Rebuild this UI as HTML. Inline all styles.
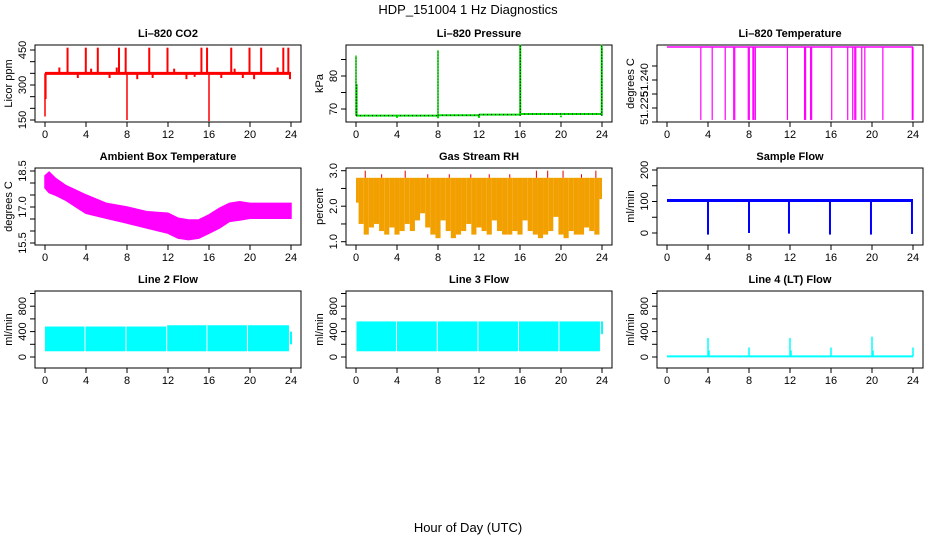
<!DOCTYPE html>
<html><head><meta charset="utf-8">
<style>
html,body{margin:0;padding:0;background:#fff;}
svg{display:block;font-family:"Liberation Sans",sans-serif;}
</style></head>
<body>
<svg id="chart" width="936" height="540" viewBox="0 0 936 540" xmlns="http://www.w3.org/2000/svg">
<text x="468" y="14" text-anchor="middle" font-size="13">HDP_151004  1 Hz Diagnostics</text>
<text x="468" y="532" text-anchor="middle" font-size="13">Hour of Day (UTC)</text>
</svg>
<script>
// ---- data ----
const hourTicks = [0,4,8,12,16,20,24];
// CO2
const co2Base = 350;
const co2SpikeHours = [2.2,3.98,5.15,7.22,7.87,10.17,11.95,15.26,15.81,18.17,19.95,21.09,23.25,23.74];
const co2SpikeVals = [460,460,460,460,460,460,460,460,460,460,460,460,460,460];
const co2DipHours = [0.0,0.08,8.0,16.0];
const co2DipVals = [165,240,150,145];
const co2BlipHours = [1.4,3.2,4.5,6.3,7.0,9.0,10.5,12.6,13.8,14.6,17.2,18.5,19.3,20.4,22.7,23.9];
const co2BlipVals = [375,330,370,330,375,325,330,370,325,335,330,370,330,325,375,325];
// Pressure
const presSegStart = [0,8,12,16];
const presSegEnd = [8,12,16,24];
const presSegVals = [68.0,68.1,68.3,68.5];
const presSpikeHours = [0.0,0.08,8.0,16.0,16.05,23.95,24.0];
const presSpikeVals = [86.2,77.5,87.8,89.5,89.5,89.5,89.0];
const presDipHours = [4.0,8.0,12.0,20.0];
const presDipVals = [67.3,67.2,67.3,67.5];
// Li-820 temperature
const ltempLevel = 51.2577;
const ltempLow = 51.2186;
const ltempDropHours = [3.3,4.41,5.68,6.51,6.61,7.93,8.03,8.38,8.47,8.62,11.75,13.42,13.52,14.01,14.11,16.07,17.63,18.12,18.32,18.42,19.0,19.3,21.06,23.93,24.0];
// Ambient box temperature envelope
const ambHours = [0,0.4,1,2,3,4,6,8,10,12,13,14,15,16,17,18,19,20,22,24];
const ambUpper = [18.3,18.45,18.2,17.9,17.7,17.5,17.15,17.0,16.8,16.74,16.53,16.46,16.46,16.67,16.94,17.15,17.22,17.15,17.15,17.15];
const ambLower = [17.8,17.6,17.5,17.29,17.01,16.74,16.53,16.33,16.12,15.91,15.7,15.64,15.7,15.91,16.12,16.4,16.46,16.53,16.53,16.53];
// Gas stream RH
const rhTop = 2.8;
const rhLower = [2.1,1.5,1.2,1.4,1.5,1.3,1.2,1.4,1.2,1.3,1.5,1.3,1.6,1.8,1.4,1.2,1.1,1.6,1.3,1.1,1.2,1.3,1.5,1.2,1.4,1.3,1.2,1.6,1.3,1.2,1.2,1.3,1.2,1.6,1.3,1.2,1.1,1.2,1.3,1.7,1.2,1.1,1.3,1.2,1.2,1.4,1.3,1.2,2.2];
const rhSpikeHours = [0.9,2.5,4.8,7.0,9.1,11.2,13.0,15.0,17.6,18.7,20.2,22.0,23.4];
const rhSpikeVals = [3.0,2.9,3.0,2.9,2.9,2.9,2.9,2.9,3.0,3.0,3.0,2.9,3.0];
// Sample flow
const sfBase = 103;
const sfDipHours = [4.0,8.0,11.9,15.9,19.9,23.9];
const sfDipVals = [-5,0,-2,-5,-5,-3];
// Line 2 flow
const l2SegStart = [0,3.95,7.95,11.92,15.85,19.8];
const l2SegEnd = [3.85,7.85,11.82,15.75,19.7,23.8];
const l2Top = [480,480,480,500,500,500];
const l2Bottom = [90,90,90,90,90,90];
// Line 3 flow
const l3SegStart = [0.05,4.0,7.98,11.95,15.9,19.85];
const l3SegEnd = [3.9,7.88,11.85,15.8,19.75,23.8];
const l3Top = [560,560,560,560,560,560];
const l3Bottom = [90,90,90,90,90,90];
// Line 4 flow
const l4Base = 10;
const l4SpikeHours = [4.0,4.1,8.0,12.0,12.1,16.0,20.0,20.1,24.0];
const l4SpikeVals = [300,100,150,300,100,150,320,100,150];

// ---- helpers ----
const NS = "http://www.w3.org/2000/svg";
const svg = document.getElementById('chart');
function mk(tag, attrs, parent){
  const e = document.createElementNS(NS, tag);
  for (const k in attrs) e.setAttribute(k, attrs[k]);
  (parent||svg).appendChild(e);
  return e;
}
const colLeft = [35,346,657];
const rowTop = [45,168,291];
const W = 266, H = 77;
function xScale(col){ const x0 = colLeft[col]+10, x1 = colLeft[col]+256; return h => x0 + h*(x1-x0)/24; }
function yScale(v0,p0,v1,p1){ return v => p0 + (v-v0)*(p1-p0)/(v1-v0); }

function panel(col,row,name,title,ylab,ys,yticks,ylabels){
  const g = mk('g',{});
  
  
  const L = colLeft[col], T = rowTop[row], X = xScale(col);
  const t = mk('text',{x:L+W/2,y:T-8,'text-anchor':'middle','font-size':11,'font-weight':'bold'},g);
  t.textContent = title;
  
  
  const box = mk('rect',{x:L,y:T,width:W,height:H,fill:'none',stroke:'#000','stroke-width':1},g);
  
  
  const xa = mk('g',{},g);
  
  
  mk('line',{x1:X(0),x2:X(24),y1:T+H,y2:T+H,stroke:'#000'},xa);
  hourTicks.forEach(h=>{
    mk('line',{x1:X(h),x2:X(h),y1:T+H,y2:T+H+5,stroke:'#000'},xa);
    const tl = mk('text',{x:X(h),y:T+H+16,'text-anchor':'middle','font-size':11},xa);
    tl.textContent = h;
    
    
  });
  const ya = mk('g',{},g);
  
  
  mk('line',{x1:L,x2:L,y1:ys(yticks[0]),y2:ys(yticks[yticks.length-1]),stroke:'#000'},ya);
  yticks.forEach(v=>{ mk('line',{x1:L-5,x2:L,y1:ys(v),y2:ys(v),stroke:'#000'},ya); });
  ylabels.forEach(lb=>{
    const yy = ys(lb[0]);
    const tl = mk('text',{x:0,y:0,'text-anchor':'middle','font-size':11,transform:`translate(${L-9},${yy}) rotate(-90)`},ya);
    tl.textContent = lb[1];
    
    
  });
  const yt = mk('text',{x:0,y:0,'text-anchor':'middle','font-size':11,transform:`translate(${L-23},${T+H/2}) rotate(-90)`},ya);
  yt.textContent = ylab;
  
  
  return {g, X, ys, L, T};
}
function vline(p,h,v0,v1,color,w){
  const e = mk('line',{x1:p.X(h),x2:p.X(h),y1:p.ys(v0),y2:p.ys(v1),stroke:color,'stroke-width':w||1},p.g);
  
  
  return e;
}
function hline(p,h0,h1,v,color,w){
  const e = mk('line',{x1:p.X(h0),x2:p.X(h1),y1:p.ys(v),y2:p.ys(v),stroke:color,'stroke-width':w||1},p.g);
  
  
  return e;
}

// ---- CO2 ----
{
  const ys = yScale(150,120,450,50);
  const p = panel(0,0,'panel-co2','Li\u2013820 CO2','Licor ppm',ys,[150,200,250,300,350,400,450],[[150,'150'],[300,'300'],[450,'450']]);
  hline(p,0,24,co2Base,'#ff0000',3);
  co2SpikeHours.forEach((h,i)=>vline(p,h,co2Base,co2SpikeVals[i],'#ff0000',2));
  co2DipHours.forEach((h,i)=>vline(p,h,co2Base,co2DipVals[i],'#ff0000',1.5));
  co2BlipHours.forEach((h,i)=>vline(p,h,co2Base,co2BlipVals[i],'#ff0000',2));
}
// ---- Pressure ----
{
  const ys = yScale(70,109,80,76);
  const p = panel(1,0,'panel-pressure','Li\u2013820 Pressure','kPa',ys,[70,75,80,85],[[70,'70'],[80,'80']]);
  presSegStart.forEach((s,i)=>hline(p,s,presSegEnd[i],presSegVals[i],'#00dd00',2));
  presSegStart.forEach((s,i)=>{ const e=hline(p,s,presSegEnd[i],presSegVals[i],'#000',1); e.setAttribute('stroke-dasharray','1 3'); });
  presSpikeHours.forEach((h,i)=>vline(p,h,68,presSpikeVals[i],'#00dd00',1.5));
  presSpikeHours.forEach((h,i)=>{ const e=vline(p,h,68,presSpikeVals[i],'#000',0.8); e.setAttribute('stroke-dasharray','1 2'); });
  presDipHours.forEach((h,i)=>vline(p,h,68,presDipVals[i],'#00dd00',2));
}
// ---- Li-820 temperature ----
{
  const ys = yScale(51.240,80,51.225,108);
  const p = panel(2,0,'panel-li820-temp','Li\u2013820 Temperature','degrees C',ys,[51.2175,51.225,51.2325,51.240,51.2475],[[51.225,'51.225'],[51.240,'51.240']]);
  hline(p,0,24,ltempLevel,'#ff00ff',1.5);
  ltempDropHours.forEach(h=>vline(p,h,ltempLevel,ltempLow,'#ff00ff',1.2));
}
// ---- Ambient box temp ----
{
  const ys = yScale(18.5,171,15.5,243);
  const p = panel(0,1,'panel-ambient-temp','Ambient Box Temperature','degrees C',ys,[15.5,16.0,16.5,17.0,17.5,18.0,18.5],[[15.5,'15.5'],[17.0,'17.0'],[18.5,'18.5']]);
  let pts = ambHours.map((h,i)=>`${p.X(h)},${ys(ambUpper[i])}`);
  for (let i=ambHours.length-1;i>=0;i--) pts.push(`${p.X(ambHours[i])},${ys(ambLower[i])}`);
  const poly = mk('polygon',{points:pts.join(' '),fill:'#ff00ff',stroke:'#ff00ff','stroke-width':1.5},p.g);
  
  
}
// ---- Gas stream RH ----
{
  const ys = yScale(3.0,170.7,1.0,241.7);
  const p = panel(1,1,'panel-gas-rh','Gas Stream RH','percent',ys,[1.0,1.5,2.0,2.5,3.0],[[1.0,'1.0'],[2.0,'2.0'],[3.0,'3.0']]);
  rhLower.forEach((v,i)=>{
    const h0 = i*0.5 - 0.25 < 0 ? 0 : i*0.5-0.25;
    const h1 = i*0.5 + 0.25 > 24 ? 24 : i*0.5+0.25;
    const r = mk('rect',{x:p.X(h0),y:ys(rhTop),width:p.X(h1)-p.X(h0),height:ys(v)-ys(rhTop),fill:'#f2a000'},p.g);
    
    
  });
  rhSpikeHours.forEach((h,i)=>vline(p,h,rhTop,rhSpikeVals[i],'#e00000',1));
}
// ---- Sample flow ----
{
  const ys = yScale(0,233,200,170);
  const p = panel(2,1,'panel-sample-flow','Sample Flow','ml/min',ys,[0,50,100,150,200],[[0,'0'],[100,'100'],[200,'200']]);
  hline(p,0,24,sfBase,'#0000ff',3);
  sfDipHours.forEach((h,i)=>vline(p,h,sfBase,sfDipVals[i],'#0000ff',2));
}
// ---- Flows ----
function flowBands(p,starts,ends,tops,bots,color){
  starts.forEach((s,i)=>{
    const r = mk('rect',{x:p.X(s),y:p.ys(tops[i]),width:p.X(ends[i])-p.X(s),height:p.ys(bots[i])-p.ys(tops[i]),fill:color},p.g);
    
    
  });
}
{
  const ys = yScale(0,357,400,331.6);
  const p = panel(0,2,'panel-line2-flow','Line 2 Flow','ml/min',ys,[0,200,400,600,800,1000],[[0,'0'],[400,'400'],[800,'800']]);
  flowBands(p,l2SegStart,l2SegEnd,l2Top,l2Bottom,'#00ffff');
  vline(p,24,200,400,'#00ffff',2);
}
{
  const ys = yScale(0,357,400,331.6);
  const p = panel(1,2,'panel-line3-flow','Line 3 Flow','ml/min',ys,[0,200,400,600,800,1000],[[0,'0'],[400,'400'],[800,'800']]);
  flowBands(p,l3SegStart,l3SegEnd,l3Top,l3Bottom,'#00ffff');
  vline(p,24,360,560,'#00ffff',2);
}
{
  const ys = yScale(0,357,400,331.6);
  const p = panel(2,2,'panel-line4-flow','Line 4 (LT) Flow','ml/min',ys,[0,200,400,600,800,1000],[[0,'0'],[400,'400'],[800,'800']]);
  hline(p,0,24,l4Base,'#00ffff',2);
  l4SpikeHours.forEach((h,i)=>vline(p,h,l4Base,l4SpikeVals[i],'#00ffff',1.5));
}
</script>
</body></html>
